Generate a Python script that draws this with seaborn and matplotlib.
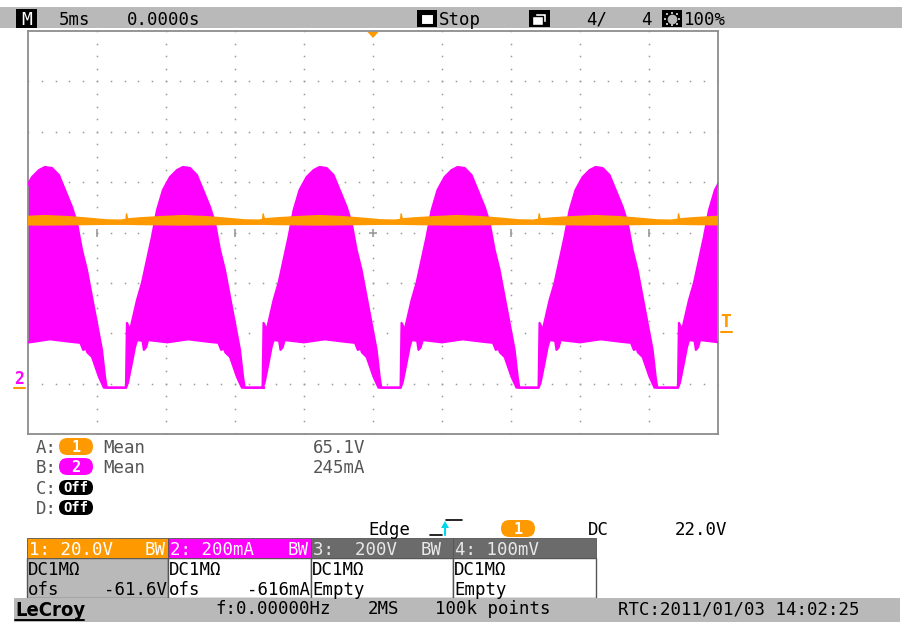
import numpy as np
import pandas as pd
import seaborn as sns
import matplotlib
matplotlib.use("Agg")
import matplotlib.pyplot as plt
from matplotlib.patches import Rectangle, FancyBboxPatch, Polygon

sns.set_theme(style="white")
plt.rcParams['font.family'] = ['DejaVu Sans Mono', 'DejaVu Sans']

# ---------------- data ----------------
TIME_DIV_MS = 5.0
CH1_V_DIV = 20.0
CH1_OFS_V = -61.6
CH2_MA_DIV = 200.0
CH2_OFS_MA = -616.0
TRIG_LEVEL_V = 22.0

# end of each zero-current flat (ms) -> start of a rectified half-wave
cycle_start_ms = [-27.9, -17.9, -8.0, 2.0, 12.0, 22.1]

# channel 2 (current) envelope of one half-wave, time relative to cycle start
ch2_rel_t_upper = [0.0, 0.07, 0.3, 0.8, 1.16, 1.52, 1.88, 2.25, 2.68, 3.19, 3.70,
                   4.13, 4.64, 5.14, 5.58, 6.09, 6.45, 6.81, 7.17, 7.54, 7.90,
                   8.26, 8.48, 8.6, 10.0]
ch2_upper_ma = [0, 257, 229, 348, 416, 507, 598, 705, 785, 836, 864,
                876, 872, 844, 785, 717, 654, 547, 467, 360, 257,
                150, 43, 0, 0]
ch2_rel_t_lower = [0.0, 0.14, 0.43, 0.65, 0.8, 1.2, 1.3, 1.45, 1.6, 3.0, 4.5,
                   6.0, 6.7, 6.9, 7.1, 7.2, 7.54, 8.04, 8.4, 8.6, 10.0]
ch2_lower_ma = [0, 19, 98, 161, 189, 186, 150, 160, 189, 180, 192,
                182, 178, 150, 155, 140, 122, 43, 0, 0, 0]

# channel 1 (voltage) band of one half-wave
ch1_rel_t = [0.0, 0.04, 0.12, 1.0, 2.5, 4.1, 5.8, 7.2, 8.6, 9.6, 10.0]
ch1_upper_v = [66.8, 69.0, 67.0, 67.4, 67.9, 68.3, 67.9, 67.3, 66.6, 66.5, 66.8]
ch1_lower_v = [64.6, 64.6, 64.6, 64.5, 64.4, 64.3, 64.4, 64.5, 64.6, 64.6, 64.6]

meas_labels = ["A:", "B:", "C:", "D:"]
meas_src = ["1", "2", "Off", "Off"]
meas_kind = ["Mean", "Mean", "", ""]
meas_value = ["65.1V", "245mA", "", ""]

ch_headers = ["1: 20.0V", "2: 200mA", "3:  200V", "4: 100mV"]
ch_bw = ["BW", "BW", "BW", ""]
ch_coupling = ["DC1M\u03a9", "DC1M\u03a9", "DC1M\u03a9", "DC1M\u03a9"]
ch_ofs_label = ["ofs", "ofs", "Empty", "Empty"]
ch_ofs_value = ["-61.6V", "-616mA", "", ""]

# ---------------- colours ----------------
ORANGE = "#ff9900"
MAGENTA = "#ff00ff"
BAR_GRAY = "#b9b9b9"
DARK_HDR = "#6b6b6b"
GRID = "#9a9a9a"

W, H = 903, 622
fig = plt.figure(figsize=(W / 100, H / 100), dpi=100)
fig.patch.set_facecolor("white")

# screen rectangle in pixels
SX0, SX1, SY0, SY1 = 28, 718, 31, 434
ax = fig.add_axes([SX0 / W, 1 - SY1 / H, (SX1 - SX0) / W, (SY1 - SY0) / H])
ax.set_facecolor("white")


def build(starts, rel_t, vals):
    t, v = [], []
    for c in starts:
        t.extend([c + r for r in rel_t])
        v.extend(vals)
    return np.array(t), np.array(v, dtype=float)


t_up, i_up = build(cycle_start_ms, ch2_rel_t_upper, ch2_upper_ma)
t_lo, i_lo = build(cycle_start_ms, ch2_rel_t_lower, ch2_lower_ma)
y_up = (i_up + CH2_OFS_MA) / CH2_MA_DIV
y_lo = (i_lo + CH2_OFS_MA) / CH2_MA_DIV

tv_up, v_up = build(cycle_start_ms, ch1_rel_t, ch1_upper_v)
tv_lo, v_lo = build(cycle_start_ms, ch1_rel_t, ch1_lower_v)
yv_up = (v_up + CH1_OFS_V) / CH1_V_DIV
yv_lo = (v_lo + CH1_OFS_V) / CH1_V_DIV

# grid dots
xs_major = np.arange(-20, 21, 5)
for xm in xs_major:
    yy = np.arange(-4, 4.01, 0.25)
    ax.plot(np.full_like(yy, xm), yy, ls="none", marker="s", ms=1.1,
            color=GRID, mew=0, zorder=1)
for ym in range(-3, 4):
    xx = np.arange(-25, 25.01, 1.0)
    ax.plot(xx, np.full_like(xx, ym), ls="none", marker="s", ms=1.1,
            color=GRID, mew=0, zorder=1)
# centre-line ticks
ax.plot(xs_major, np.zeros_like(xs_major), ls="none", marker="|", ms=6,
        color=GRID, mew=1.2, zorder=1)
ax.plot([0], [0], ls="none", marker="_", ms=6, color=GRID, mew=1.2, zorder=1)

# channel 2 trace (current)
ax.fill(np.concatenate([t_up, t_lo[::-1]]), np.concatenate([y_up, y_lo[::-1]]),
        color=MAGENTA, lw=0, zorder=2)
df2u = pd.DataFrame({"t": t_up, "y": y_up})
df2l = pd.DataFrame({"t": t_lo, "y": y_lo})
sns.lineplot(data=df2u, x="t", y="y", ax=ax, color=MAGENTA, lw=1.6,
             sort=False, estimator=None, zorder=3)
sns.lineplot(data=df2l, x="t", y="y", ax=ax, color=MAGENTA, lw=1.6,
             sort=False, estimator=None, zorder=3)

# channel 1 trace (voltage)
ax.fill(np.concatenate([tv_up, tv_lo[::-1]]), np.concatenate([yv_up, yv_lo[::-1]]),
        color=ORANGE, lw=0, zorder=4)
df1 = pd.DataFrame({"t": tv_up, "y": yv_up})
sns.lineplot(data=df1, x="t", y="y", ax=ax, color=ORANGE, lw=1.0,
             sort=False, estimator=None, zorder=4)

ax.set_xlim(-25, 25)
ax.set_ylim(-4, 4)
ax.set_xticks([])
ax.set_yticks([])
ax.set_xlabel("")
ax.set_ylabel("")
for s in ax.spines.values():
    s.set_color("#8c8c8c")
    s.set_linewidth(1.3)

# ---------------- overlay in pixel coordinates ----------------
ov = fig.add_axes([0, 0, 1, 1])
ov.set_xlim(0, W)
ov.set_ylim(H, 0)
ov.axis("off")
ov.patch.set_alpha(0)
ov.set_zorder(5)

FS = 12.5


def txt(x, y, s, color="black", ha="left", size=FS, weight="normal", **kw):
    ov.text(x, y, s, ha=ha, va="baseline", color=color, fontsize=size,
            fontweight=weight, **kw)


def rect(x0, y0, x1, y1, fc, ec="none", lw=0.0):
    ov.add_patch(Rectangle((x0, y0), x1 - x0, y1 - y0, facecolor=fc,
                           edgecolor=ec, linewidth=lw))


def pill(x0, y0, x1, y1, fc, label, tc="white", weight="bold", size=11):
    r = (y1 - y0) / 2
    ov.add_patch(FancyBboxPatch((x0, y0), x1 - x0, y1 - y0,
                                boxstyle=f"round,pad=0,rounding_size={r}",
                                facecolor=fc, edgecolor="none"))
    ov.text((x0 + x1) / 2, (y0 + y1) / 2 + 0.5, label, ha="center", va="center",
            color=tc, fontsize=size, fontweight=weight)


# top status bar
rect(0, 7, W, 28, BAR_GRAY)
rect(16, 9, 37, 28, "black")
txt(26.5, 25, "M", color="white", ha="center", size=13)
txt(59, 25, "5ms")
txt(127, 25, "0.0000s")
rect(417, 10, 437, 27, "black")
rect(421, 14, 433, 24, "white", ec="black", lw=0.8)
txt(439, 25, "Stop")
rect(529, 10, 550, 27, "black")
rect(535, 13, 546, 22, "white", ec="black", lw=1.0)
rect(532, 16, 543, 25, "white", ec="black", lw=1.0)
txt(586, 25, "4/")
txt(641, 25, "4")
rect(662, 10, 682, 27, "black")
ov.plot([672], [18.5], marker="o", ms=7, color=BAR_GRAY, mew=0)
for dx, dy in [(-7, 0), (7, 0), (0, -6), (0, 6), (-5, -5), (5, -5), (-5, 5), (5, 5)]:
    ov.plot([672 + dx], [18.5 + dy], marker="s", ms=2, color=BAR_GRAY, mew=0)
txt(684, 25, "100%")

# trigger position marker (top) and trigger level marker (right)
ov.add_patch(Polygon([[367.5, 32], [378.5, 32], [373, 38]], closed=True,
                     facecolor=ORANGE, edgecolor="none"))
txt(726, 327, "T", color=ORANGE, ha="center", size=13, weight="bold")
ov.plot([721, 732], [332, 332], color=ORANGE, lw=1.5)

# ground markers at left (ch1 and ch2 share the same level)
txt(19, 384, "2", color=MAGENTA, ha="center", size=12, weight="bold")
ov.plot([14, 25], [388, 388], color=ORANGE, lw=1.5)

# measurement list
ys_meas = [453, 473, 494, 514]
for lab, src, kind, val, yb in zip(meas_labels, meas_src, meas_kind, meas_value, ys_meas):
    txt(36, yb, lab, color="#555555")
    if src == "1":
        pill(59, yb - 15, 93, yb + 2, ORANGE, src)
    elif src == "2":
        pill(59, yb - 15, 93, yb + 2, MAGENTA, src)
    else:
        pill(59, yb - 14, 93, yb + 1, "black", src, size=10)
    if kind:
        txt(103, yb, kind, color="#555555")
    if val:
        txt(313, yb, val, color="#555555")

# trigger line
txt(368, 535, "Edge")
ov.plot([430, 442], [535, 535], color="black", lw=1.2)
ov.plot([445, 445], [525, 535], color="#00d8e8", lw=1.5)
ov.add_patch(Polygon([[441, 528], [449, 528], [445, 521]], closed=True,
                     facecolor="#00d8e8", edgecolor="none"))
ov.plot([446, 462], [520, 520], color="black", lw=1.2)
pill(501, 520, 535, 537, ORANGE, "1")
txt(588, 535, "DC")
txt(675, 535, "22.0V")

# channel boxes
box_x = [27, 168, 311, 453, 596]
hdr_col = [ORANGE, MAGENTA, DARK_HDR, DARK_HDR]
hdr_txt = ["white", "white", "#e8e8e8", "#e8e8e8"]
body_col = [BAR_GRAY, "white", "white", "white"]
for k in range(4):
    x0, x1 = box_x[k], box_x[k + 1]
    rect(x0, 558, x1, 598, body_col[k], ec="#555555", lw=1.0)
    rect(x0, 538, x1, 558, hdr_col[k], ec="#555555", lw=0.6)
    txt(x0 + 2, 555, ch_headers[k], color=hdr_txt[k])
    if ch_bw[k]:
        txt(x1 - 2 if k < 2 else x1 - 11, 555, ch_bw[k], color=hdr_txt[k], ha="right")
    txt(x0 + 1, 575, ch_coupling[k])
    txt(x0 + 1, 595, ch_ofs_label[k])
    if ch_ofs_value[k]:
        txt(x1 - 1, 595, ch_ofs_value[k], ha="right")

# bottom status bar
rect(14, 598, 900, 622, BAR_GRAY)
ov.text(15, 616, "LeCroy", ha="left", va="baseline", fontsize=14.5,
        fontweight="bold", color="black", family="DejaVu Sans", stretch="condensed")
ov.plot([15, 84], [619.5, 619.5], color="black", lw=1.4)
txt(215, 614, "f:0.00000Hz")
txt(368, 614, "2MS")
txt(435, 614, "100k points")
txt(618, 614, "RTC:2011/01/03 14:02:25")

fig.savefig("out.png", dpi=100, facecolor="white")
